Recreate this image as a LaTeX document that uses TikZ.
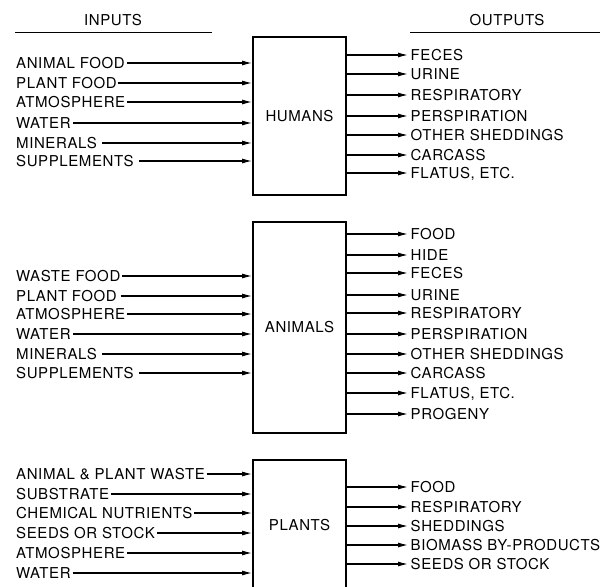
\documentclass[tikz,border=0pt]{standalone}
\usepackage{fontspec}
\setmainfont[LetterSpace=4]{TeX Gyre Heros}
\usetikzlibrary{arrows.meta}
\tikzset{
  lbl/.style={font=\fontsize{15pt}{15pt}\selectfont, inner sep=1pt, text height=10.8pt, text depth=0pt},
  inlbl/.style={lbl, anchor=west},
  outlbl/.style={lbl, anchor=west, inner sep=2.5pt},
  procbox/.style={draw, line width=1.8pt, minimum width=93pt, lbl, inner sep=0pt},
  flow/.style={line width=1.2pt, -{Latex[length=10pt,width=5pt]}},
  rule/.style={line width=0.9pt}
}
\begin{document}
\begin{tikzpicture}[x=1pt,y=-1pt]
\useasboundingbox (0,0) rectangle (610,586);
\clip (0,0) rectangle (610,586);
\fill[white] (0,0) rectangle (610,586);

% headers
\node[lbl] (inh) at (113,20) {INPUTS};
\node[lbl] (outh) at (507,20) {OUTPUTS};
\coordinate (inl1) at (15,32); \coordinate (inl2) at (212,32);
\coordinate (outl1) at (410,32); \coordinate (outl2) at (600,32);
\draw[rule] (inl1) -- (inl2);
\draw[rule] (outl1) -- (outl2);

% boxes
\node[procbox, minimum height=158pt] (humans) at (299.5,116) {HUMANS};
\node[procbox, minimum height=211pt] (animals) at (299.5,327.5) {ANIMALS};
\node[procbox, minimum height=130pt] (plants) at (299.5,525) {PLANTS};

% humans inputs
\foreach \t/\y/\g [count=\i] in {ANIMAL FOOD/63/1, PLANT FOOD/83/0.5, ATMOSPHERE/102/0.5, WATER/123/1.5, MINERALS/143/4.5, SUPPLEMENTS/161/4.5}{
  \node[inlbl] (hi\i) at (15,\y) {\t};
  \draw[flow] ([xshift=\g pt]hi\i.east) -- (hi\i.east -| humans.west);
}
% humans outputs
\foreach \t/\y [count=\i] in {FECES/55, URINE/74, RESPIRATORY/95, PERSPIRATION/116, OTHER SHEDDINGS/135, CARCASS/155, {FLATUS, ETC.}/173}{
  \node[outlbl] (ho\i) at (408,\y) {\t};
  \draw[flow] (ho\i.west -| humans.east) -- (ho\i.west);
}

% animals inputs
\foreach \t/\y/\g [count=\i] in {WASTE FOOD/276/0.5, PLANT FOOD/296/3, ATMOSPHERE/314/0.5, WATER/334/1, MINERALS/354/4.5, SUPPLEMENTS/373/4.5}{
  \node[inlbl] (ai\i) at (15,\y) {\t};
  \draw[flow] ([xshift=\g pt]ai\i.east) -- (ai\i.east -| animals.west);
}
% animals outputs
\foreach \t/\y [count=\i] in {FOOD/234, HIDE/255, FECES/273, URINE/295, RESPIRATORY/313, PERSPIRATION/334, OTHER SHEDDINGS/354, CARCASS/373, {FLATUS, ETC.}/393, PROGENY/414}{
  \node[outlbl] (ao\i) at (408,\y) {\t};
  \draw[flow] (ao\i.west -| animals.east) -- (ao\i.west);
}

% plants inputs
\foreach \t/\y/\g [count=\i] in {ANIMAL \& PLANT WASTE/474/0.5, SUBSTRATE/494/0.5, CHEMICAL NUTRIENTS/513/0.5, SEEDS OR STOCK/533/1, ATMOSPHERE/553/0.5, WATER/573/1}{
  \node[inlbl] (pi\i) at (15,\y) {\t};
  \draw[flow] ([xshift=\g pt]pi\i.east) -- (pi\i.east -| plants.west);
}
% plants outputs
\foreach \t/\y [count=\i] in {FOOD/487, RESPIRATORY/507, SHEDDINGS/526, BIOMASS BY-PRODUCTS/545, SEEDS OR STOCK/564}{
  \node[outlbl] (po\i) at (408,\y) {\t};
  \draw[flow] (po\i.west -| plants.east) -- (po\i.west);
}
\end{tikzpicture}
\end{document}
